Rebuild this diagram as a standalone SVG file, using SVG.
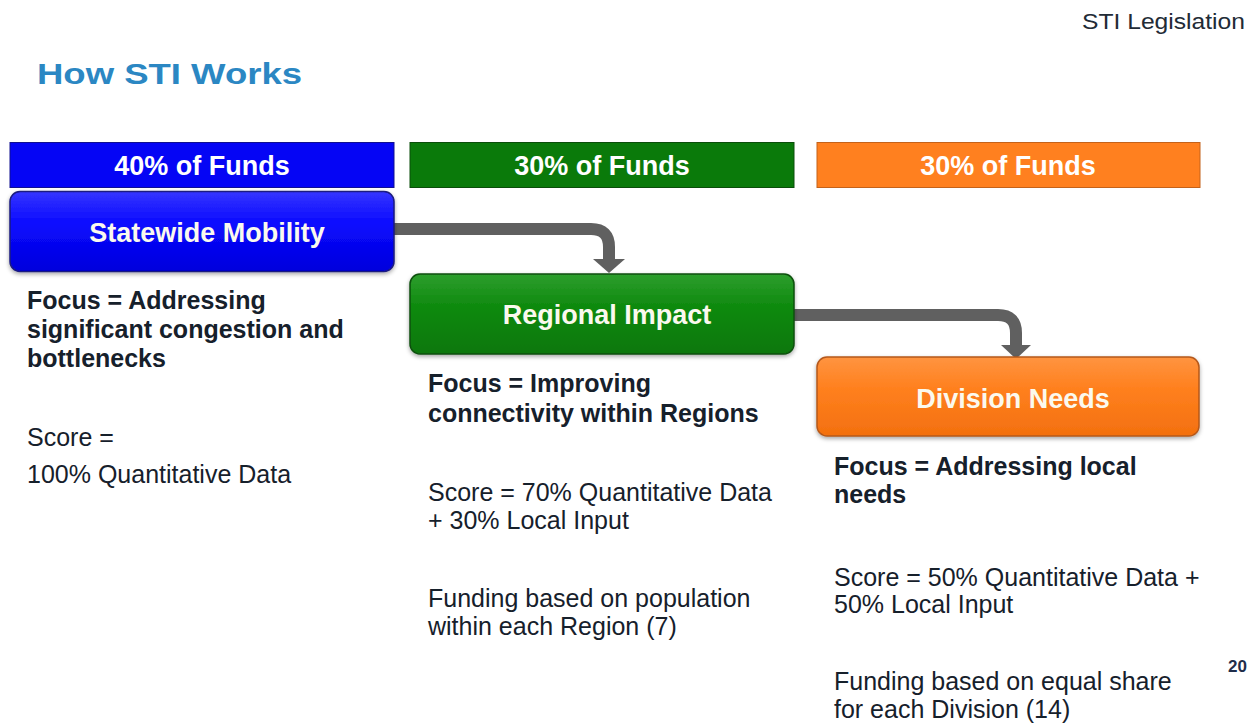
<svg xmlns="http://www.w3.org/2000/svg" width="1257" height="723" viewBox="0 0 1257 723">
  <style>
    .head { font-family: "Liberation Sans", Arial, sans-serif; font-weight: bold; font-size: 27px; fill: #ffffff; text-anchor: middle; }
    .node { font-family: "Liberation Sans", Arial, sans-serif; font-weight: bold; font-size: 27px; fill: #fbf9ee; text-anchor: middle; }
    .focus { font-family: "Liberation Sans", Arial, sans-serif; font-weight: bold; font-size: 25px; fill: #16202b; }
    .body { font-family: "Liberation Sans", Arial, sans-serif; font-size: 25px; fill: #16202b; }
    .conn { fill: none; stroke: #606060; stroke-width: 12; }
    .arrow { fill: #606060; }
  </style>
  <defs>
    <linearGradient id="gBlue" x1="0" y1="0" x2="0" y2="1">
      <stop offset="0" stop-color="#3535ff"/>
      <stop offset="0.4" stop-color="#0a0aff"/>
      <stop offset="1" stop-color="#0000dc"/>
    </linearGradient>
    <linearGradient id="gGreen" x1="0" y1="0" x2="0" y2="1">
      <stop offset="0" stop-color="#2e9e2e"/>
      <stop offset="0.4" stop-color="#0f8a0f"/>
      <stop offset="1" stop-color="#077707"/>
    </linearGradient>
    <linearGradient id="gOrange" x1="0" y1="0" x2="0" y2="1">
      <stop offset="0" stop-color="#ff9440"/>
      <stop offset="0.4" stop-color="#ff801e"/>
      <stop offset="1" stop-color="#f3700f"/>
    </linearGradient>
    <filter id="shadow" x="-5%" y="-10%" width="110%" height="130%">
      <feDropShadow dx="0" dy="2" stdDeviation="2" flood-color="#000" flood-opacity="0.35"/>
    </filter>
  </defs>

  <rect width="1257" height="723" fill="#ffffff"/>

  <!-- page header -->
  <text x="1082" y="29" font-family="'Liberation Sans', Arial, sans-serif" font-size="22" fill="#222b36" textLength="163" lengthAdjust="spacingAndGlyphs">STI Legislation</text>
  <text x="37" y="84" font-family="'Liberation Sans', Arial, sans-serif" font-weight="bold" font-size="30" fill="#2b87c3" textLength="265" lengthAdjust="spacingAndGlyphs">How STI Works</text>

  <!-- funding share bars -->
  <g id="funds-40">
    <rect x="10" y="142.5" width="384" height="45" fill="#0505f5" stroke="#101090" stroke-width="1"/>
    <text class="head" x="202" y="175">40% of Funds</text>
  </g>
  <g id="funds-30-regional">
    <rect x="410" y="142.5" width="384" height="45" fill="#0a7a0a" stroke="#0a4e0a" stroke-width="1"/>
    <text class="head" x="602" y="175">30% of Funds</text>
  </g>
  <g id="funds-30-division">
    <rect x="817" y="142.5" width="383" height="45" fill="#ff801f" stroke="#c4621a" stroke-width="1"/>
    <text class="head" x="1008" y="175">30% of Funds</text>
  </g>

  <!-- connectors -->
  <g id="connectors">
    <path class="conn" d="M394 229 H591 Q609 229 609 247 V260"/>
    <polygon class="arrow" points="593,259 625,259 609,273"/>
    <path class="conn" d="M794 315 H998 Q1016 315 1016 333 V346"/>
    <polygon class="arrow" points="1001,345 1031,345 1016,359"/>
  </g>

  <!-- tier boxes -->
  <g id="statewide-mobility">
    <rect x="10" y="191.5" width="384" height="80" rx="10" fill="url(#gBlue)" stroke="#1a1a80" stroke-width="1.5" filter="url(#shadow)"/>
    <text class="node" x="207" y="242">Statewide Mobility</text>
  </g>
  <g id="regional-impact">
    <rect x="410" y="274" width="384" height="80" rx="10" fill="url(#gGreen)" stroke="#0b4f0b" stroke-width="1.5" filter="url(#shadow)"/>
    <text class="node" x="607" y="324">Regional Impact</text>
  </g>
  <g id="division-needs">
    <rect x="817" y="357" width="382" height="79" rx="10" fill="url(#gOrange)" stroke="#b5581a" stroke-width="1.5" filter="url(#shadow)"/>
    <text class="node" x="1013" y="408">Division Needs</text>
  </g>

  <!-- statewide description -->
  <g id="statewide-text">
    <text class="focus" x="27" y="309">Focus = Addressing</text>
    <text class="focus" x="27" y="338">significant congestion and</text>
    <text class="focus" x="27" y="367">bottlenecks</text>
    <text class="body" x="27" y="446">Score =</text>
    <text class="body" x="27" y="483">100% Quantitative Data</text>
  </g>

  <!-- regional description -->
  <g id="regional-text">
    <text class="focus" x="428" y="392">Focus = Improving</text>
    <text class="focus" x="428" y="422">connectivity within Regions</text>
    <text class="body" x="428" y="501">Score = 70% Quantitative Data</text>
    <text class="body" x="428" y="529">+ 30% Local Input</text>
    <text class="body" x="428" y="607">Funding based on population</text>
    <text class="body" x="428" y="635">within each Region (7)</text>
  </g>

  <!-- division description -->
  <g id="division-text">
    <text class="focus" x="834" y="475">Focus = Addressing local</text>
    <text class="focus" x="834" y="503">needs</text>
    <text class="body" x="834" y="586">Score = 50% Quantitative Data +</text>
    <text class="body" x="834" y="613">50% Local Input</text>
    <text class="body" x="834" y="690">Funding based on equal share</text>
    <text class="body" x="834" y="718">for each Division (14)</text>
  </g>

  <!-- page number -->
  <text x="1228" y="672" font-family="'Liberation Sans', Arial, sans-serif" font-weight="bold" font-size="17" fill="#1f2d4a">20</text>
</svg>
